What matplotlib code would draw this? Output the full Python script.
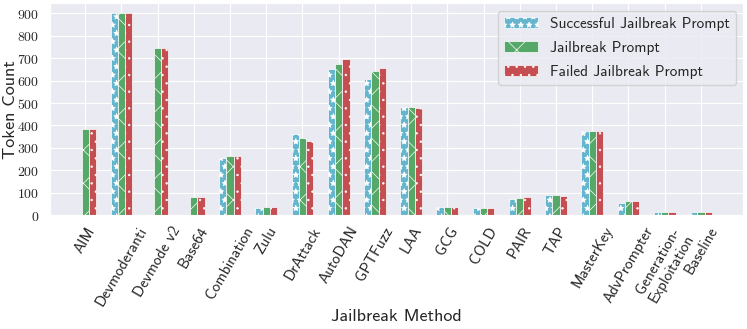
import numpy as np
import matplotlib
matplotlib.use("Agg")
import matplotlib.pyplot as plt
import seaborn as sns
from matplotlib.ticker import FuncFormatter, MultipleLocator

methods = ['AIM', 'Devmoderanti', 'Devmode v2', 'Base64', 'Combination', 'Zulu',
           'DrAttack', 'AutoDAN', 'GPTFuzz', 'LAA', 'GCG', 'COLD', 'PAIR', 'TAP',
           'MasterKey', 'AdvPrompter', 'Generation-\nExploitation', 'Baseline']

successful = [np.nan, 900, np.nan, np.nan, 254, 32, 361, 652, 608, 482, 36, 30,
              72, 89, 373, 55, 13, 13]
jailbreak = [382, 901, 744, 81, 264, 37, 342, 675, 643, 482, 37, 33,
             78, 89, 373, 61, 13, 13]
failed = [382, 901, 744, 81, 264, 36, 331, 698, 658, 476, 35, 33,
          81, 85, 373, 61, 13, 13]

series = [('Successful Jailbreak Prompt', successful, '#64B5CD', '**'),
          ('Jailbreak Prompt', jailbreak, '#55A868', 'x'),
          ('Failed Jailbreak Prompt', failed, '#C44E52', '..')]

sns.set_style('darkgrid')
plt.rcParams['font.family'] = ['cmss10', 'DejaVu Sans']
plt.rcParams['mathtext.fontset'] = 'cm'
plt.rcParams['axes.unicode_minus'] = False
plt.rcParams['hatch.linewidth'] = 0.5

fig, ax = plt.subplots(figsize=(7.47, 3.29), dpi=100)
fig.subplots_adjust(left=0.067, right=0.995, top=0.991, bottom=0.346)

x = np.arange(len(methods))
width = 0.2
for i, (label, vals, color, hatch) in enumerate(series):
    ax.bar(x + (i - 1) * width, vals, width, label=label, color=color,
           edgecolor='white', linewidth=0.5, hatch=hatch)

ax.set_xticks(x)
ax.set_xticklabels(methods, rotation=60, fontsize=11)
ax.yaxis.set_major_locator(MultipleLocator(100))
ax.yaxis.set_major_formatter(FuncFormatter(lambda v, p: f'${v:.0f}$'))
ax.tick_params(axis='y', labelsize=10, pad=4)
ax.tick_params(axis='x', pad=3)
ax.set_xlabel('Jailbreak Method', fontsize=13)
ax.set_ylabel('Token Count', fontsize=13)
ax.xaxis.set_label_coords(0.5, -0.44)
ax.yaxis.set_label_coords(-0.046, 0.5)
ax.legend(loc='upper right', fontsize=11, handlelength=2.2, labelspacing=0.65)

plt.savefig('out.png', dpi=100)
